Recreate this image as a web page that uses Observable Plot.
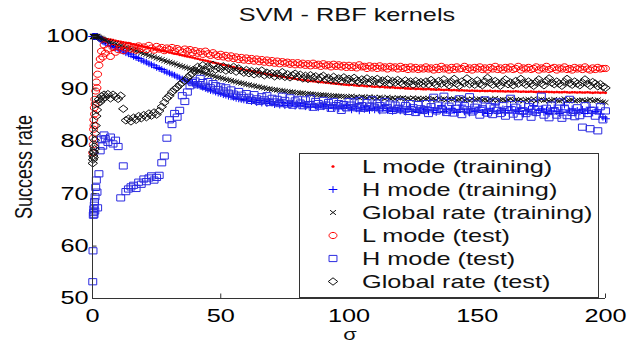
<!DOCTYPE html>
<html>
<head>
<meta charset="utf-8">
<script src="https://cdn.jsdelivr.net/npm/d3@7"></script>
<script src="https://cdn.jsdelivr.net/npm/@observablehq/plot@0.6"></script>
<style>
html, body { margin: 0; padding: 0; background: #fff; }
#chart svg { display: block; }
</style>
</head>
<body>
<div id="chart"></div>
<script>
// ---------- data ----------
const titleText = "SVM - RBF kernels";
const xLabel = "σ";
const yLabel = "Success rate";
const xTicks = [0, 50, 100, 150, 200];
const yTicks = [50, 60, 70, 80, 90, 100];
const seriesLabels = ["L mode (training)", "H mode (training)", "Global rate (training)", "L mode (test)", "H mode (test)", "Global rate (test)"];

const sigma = [0.1,0.2,0.3,0.4,0.5,0.6,0.7,0.8,0.9,1,1.25,1.5,1.75,2,2.5,3,3.5,4,4.5,
5,6,7,8,9,
10,11,12,13,14,15,16,17,18,19,
20,21,22,23,24,25,26,27,28,29,
30,31,32,33,34,35,36,37,38,39,
40,41,42,43,44,45,46,47,48,49,
50,51,52,53,54,55,56,57,58,59,
60,61,62,63,64,65,66,67,68,69,
70,71,72,73,74,75,76,77,78,79,
80,81,82,83,84,85,86,87,88,89,
90,91,92,93,94,95,96,97,98,99,
100,101,102,103,104,105,106,107,108,109,
110,111,112,113,114,115,116,117,118,119,
120,121,122,123,124,125,126,127,128,129,
130,131,132,133,134,135,136,137,138,139,
140,141,142,143,144,145,146,147,148,149,
150,151,152,153,154,155,156,157,158,159,
160,161,162,163,164,165,166,167,168,169,
170,171,172,173,174,175,176,177,178,179,
180,181,182,183,184,185,186,187,188,189,
190,191,192,193,194,195,196,197,198,199,
200];

const lTrain = [100,100,100,100,100,100,100,100,100,100,100,100,100,100,99.9,99.85,99.8,99.7,99.65,
99.55,99.45,99.4,99.3,99.2,
99.1,99.0,98.9,98.8,98.7,98.6,98.5,98.4,98.3,98.2,
98.05,97.95,97.85,97.75,97.6,97.5,97.4,97.3,97.2,97.1,
96.95,96.85,96.75,96.65,96.5,96.4,96.3,96.2,96.1,96.0,
95.85,95.75,95.6,95.5,95.4,95.3,95.15,95.05,94.95,94.85,
94.7,94.6,94.5,94.35,94.25,94.15,94.0,93.9,93.8,93.7,
93.6,93.5,93.4,93.3,93.2,93.1,93.0,92.9,92.85,92.75,
92.65,92.55,92.5,92.4,92.3,92.25,92.15,92.1,92.0,91.95,
91.85,91.8,91.7,91.65,91.6,91.5,91.45,91.4,91.35,91.3,
91.25,91.2,91.15,91.1,91.05,91.0,90.95,90.9,90.85,90.8,
90.75,90.8,90.7,90.65,90.6,90.65,90.55,90.5,90.55,90.45,
90.4,90.45,90.35,90.4,90.3,90.3,90.25,90.3,90.2,90.2,
90.15,90.2,90.1,90.1,90.05,90.1,90.0,90.05,90.0,89.95,
89.95,90.0,89.9,89.9,89.85,89.9,89.85,89.8,89.85,89.8,
89.75,89.8,89.75,89.7,89.75,89.7,89.7,89.65,89.7,89.65,
89.65,89.6,89.65,89.6,89.6,89.65,89.55,89.6,89.55,89.55,
89.55,89.5,89.55,89.5,89.5,89.55,89.5,89.45,89.5,89.45,
89.45,89.5,89.45,89.4,89.45,89.4,89.4,89.45,89.4,89.4,
89.35,89.4,89.35,89.35,89.4,89.35,89.3,89.35,89.35,89.3,
89.35,89.3,89.3,89.35,89.3,89.25,89.3,89.3,89.25,89.3,
89.25];

const hTrain = [100,100,100,100,100,100,100,100,100,100,100,100,100,100,99.75,99.55,99.3,99.1,98.95,
98.8,98.6,98.3,98.1,97.9,
97.6,97.4,97.2,96.9,96.7,96.5,96.2,96.0,95.8,95.5,
95.3,95.1,94.8,94.6,94.4,94.1,93.9,93.7,93.4,93.2,
93.0,92.8,92.6,92.3,92.1,91.9,91.7,91.5,91.3,91.1,
90.9,90.7,90.5,90.3,90.1,89.9,89.7,89.6,89.4,89.2,
89.1,88.9,88.8,88.6,88.5,88.4,88.2,88.1,88.0,87.9,
87.8,88.1,87.6,87.9,87.4,87.8,87.3,87.7,87.2,87.6,
87.3,87.0,87.5,86.9,87.4,86.8,87.2,86.9,87.3,86.7,
87.1,86.8,87.2,86.6,87.0,86.5,87.1,86.7,86.4,86.9,
86.6,87.0,86.3,86.8,86.4,86.9,86.2,86.7,86.3,86.8,
86.4,86.0,86.7,86.2,85.8,86.5,86.1,86.6,85.9,86.3,
86.0,86.5,85.8,86.3,86.8,85.9,86.2,85.7,86.4,86.0,
85.8,86.3,85.6,86.1,86.6,85.7,86.0,85.5,86.2,85.8,
86.1,85.6,86.4,85.9,85.5,86.2,86.8,85.7,86.0,85.4,
86.3,85.8,85.5,86.1,86.9,85.6,86.0,85.4,86.2,85.7,
85.9,86.5,85.5,86.0,85.3,86.3,85.8,87.1,85.6,85.9,
86.2,85.5,85.9,86.6,85.4,86.0,85.7,86.3,85.2,85.8,
86.1,85.6,86.8,85.4,85.9,86.2,85.5,86.0,85.3,85.8,
86.4,85.7,85.3,86.0,86.9,85.5,85.8,86.2,85.4,85.9,
85.6,86.1,85.3,85.8,86.5,85.4,85.7,86.0,85.2,84.6,
84.3];

const gTrain = [100,100,100,100,100,100,100,100,100,100,100,100,100,100,99.85,99.7,99.6,99.45,99.3,
99.2,99.05,98.9,98.7,98.6,
98.4,98.25,98.1,97.9,97.75,97.6,97.4,97.25,97.1,96.9,
96.75,96.6,96.4,96.25,96.1,95.9,95.75,95.6,95.4,95.25,
95.1,94.95,94.8,94.6,94.45,94.3,94.15,94.0,93.85,93.7,
93.55,93.4,93.25,93.1,92.95,92.8,92.65,92.5,92.35,92.2,
92.1,91.95,91.85,91.7,91.6,91.45,91.35,91.2,91.1,91.0,
90.85,90.8,90.65,90.6,90.45,90.4,90.25,90.2,90.05,90.0,
89.9,89.85,89.75,89.7,89.65,89.55,89.5,89.45,89.4,89.3,
89.3,89.2,89.2,89.1,89.1,89.0,89.0,88.95,88.9,88.85,
88.85,88.8,88.75,88.7,88.7,88.65,88.6,88.6,88.55,88.5,
88.5,88.6,88.4,88.5,88.3,88.5,88.4,88.3,88.5,88.3,
88.4,88.2,88.4,88.3,88.1,88.4,88.2,88.3,88.1,88.3,
88.2,88.3,88.1,88.2,88.0,88.3,88.1,88.2,88.0,88.2,
88.1,88.2,88.0,88.1,87.9,88.2,88.0,88.1,87.9,88.1,
88.0,88.1,87.9,88.0,88.2,87.9,88.0,87.8,88.1,87.9,
88.0,88.1,87.9,88.0,87.8,88.0,87.9,88.2,87.8,87.9,
88.0,87.8,87.9,88.1,87.8,87.9,87.8,88.0,87.7,87.9,
88.0,87.8,88.1,87.7,87.9,88.0,87.8,87.9,87.7,87.8,
88.0,87.8,87.7,87.9,88.1,87.7,87.8,87.9,87.7,87.8,
87.8,87.9,87.7,87.8,88.0,87.7,87.8,87.9,87.6,87.5,
87.4];

const lTest = [77.8,80.6,79.4,82.3,84.1,83.0,86.4,85.2,88.0,87.1,89.6,91.3,90.2,92.8,94.5,95.7,97.2,96.1,98.4,
96.8,97.6,96.2,97.9,97.0,
97.5,98.1,97.3,97.8,98.3,97.6,98.0,97.4,98.2,97.7,
98.0,97.5,98.3,97.8,97.4,98.1,97.6,97.9,97.3,97.8,
97.5,97.9,97.2,97.7,97.4,97.0,97.6,97.2,97.5,96.9,
97.3,96.8,97.1,96.6,97.2,96.7,96.4,96.9,96.5,96.2,
96.6,96.1,96.4,95.9,96.3,95.8,96.1,95.6,96.0,95.5,
95.9,95.4,95.8,95.3,95.7,95.2,95.6,95.1,95.5,95.0,
95.4,94.9,95.3,94.8,95.2,94.9,95.1,94.7,95.0,94.6,
95.0,94.6,94.9,94.5,94.8,94.4,94.9,94.5,94.7,94.3,
94.8,94.4,94.6,94.2,94.7,94.3,94.6,94.2,94.5,94.1,
94.5,94.1,94.4,94.0,94.6,94.2,94.3,93.9,94.4,94.0,
94.3,93.9,94.4,94.0,94.2,93.8,94.3,94.0,94.2,93.8,
94.3,93.9,94.1,93.7,94.2,93.8,94.1,93.7,94.0,93.8,
94.2,93.8,94.0,93.6,94.1,93.7,94.3,93.8,94.0,93.6,
94.1,93.7,94.2,93.8,93.9,94.3,93.7,94.0,93.6,94.1,
93.8,94.2,93.7,94.0,93.6,94.1,93.8,94.3,93.7,94.0,
93.6,94.1,93.8,94.2,93.7,93.9,94.3,93.6,94.0,93.8,
94.1,93.7,93.9,94.2,93.6,94.0,93.8,94.3,93.7,93.9,
94.1,93.6,94.0,93.8,94.2,93.7,93.9,93.6,94.1,93.8,
94.0,93.7,94.2,93.8,93.6,94.0,93.7,94.1,93.8,93.9,
93.9];

const hTest = [53.2,59.1,65.9,66.4,67.1,66.0,67.8,68.5,66.7,69.4,71.2,72.6,70.3,67.3,73.8,78.2,80.4,79.1,81.2,
80.5,79.8,80.8,79.5,80.2,
79.0,69.2,75.3,70.4,70.9,71.3,71.6,71.0,72.2,71.8,
72.8,72.3,73.0,73.4,72.6,73.1,73.5,75.9,77.2,80.6,
84.1,83.2,85.3,84.6,85.9,88.7,87.6,89.4,90.6,91.2,
91.5,90.8,92.0,91.2,90.5,91.4,90.2,91.0,90.6,89.9,
90.4,89.6,90.2,89.2,89.8,89.0,88.6,89.5,88.8,88.3,
89.1,88.4,87.8,88.9,88.1,87.6,88.5,87.9,88.7,87.4,
88.2,87.5,88.0,87.2,88.6,87.8,87.1,88.3,86.9,87.7,
88.0,87.3,86.8,87.9,87.0,88.2,86.5,87.6,87.2,86.7,
87.8,86.9,87.4,86.3,87.6,86.8,87.2,85.9,87.0,86.4,
87.6,86.9,87.5,86.4,87.8,86.8,86.3,87.4,86.7,87.9,
86.5,87.3,86.8,86.0,87.6,86.4,87.1,85.9,86.9,86.2,
87.5,86.0,86.8,85.7,87.2,86.4,85.5,87.0,86.2,85.9,
87.2,85.3,86.6,88.4,85.8,86.9,86.1,88.6,85.5,86.7,
87.4,85.4,86.3,88.1,85.1,86.8,86.0,88.5,85.6,86.5,
87.1,85.0,86.2,87.9,85.4,86.6,85.1,87.5,85.9,85.3,
86.8,84.8,86.0,88.2,85.2,86.5,84.7,87.0,85.8,85.3,
86.6,84.6,87.3,85.5,86.1,88.6,85.0,86.3,84.5,86.9,
85.8,85.0,87.5,84.4,86.2,84.9,88.0,85.5,84.7,86.4,
84.9,82.7,86.8,85.3,82.4,85.9,84.8,82.0,86.6,84.1,
85.8];

const gTest = [75.8,76.5,77.2,78.0,76.9,77.8,79.0,78.5,80.2,81.5,83.0,84.8,86.0,87.2,88.0,87.5,88.6,88.1,88.9,
88.4,89.0,88.2,88.9,88.5,
88.1,88.7,86.2,84.0,84.3,83.8,84.5,84.1,84.8,84.4,
85.0,84.6,85.3,84.9,85.5,85.1,85.8,86.6,87.4,88.2,
88.7,89.4,89.9,90.3,90.8,91.2,91.6,92.1,92.6,93.0,
93.5,94.2,93.8,94.5,93.6,94.3,93.9,94.6,93.7,94.1,
93.8,94.3,93.5,94.0,93.6,94.2,93.3,93.9,93.5,93.1,
93.6,93.0,93.4,92.8,93.3,92.9,93.5,92.6,93.1,92.7,
93.0,92.4,92.9,92.5,93.2,92.3,92.8,92.2,92.6,92.9,
92.3,92.7,92.0,92.5,91.9,92.6,92.1,92.4,91.8,92.2,
92.5,91.8,92.1,91.7,92.3,91.6,92.0,91.5,92.2,91.7,
91.9,91.4,92.1,91.6,91.3,91.8,91.5,92.0,91.2,91.7,
91.4,91.9,91.1,91.6,91.3,91.8,91.0,91.5,91.2,91.7,
91.3,90.9,91.6,91.1,91.4,90.8,91.5,91.0,91.3,90.9,
91.4,90.9,91.7,91.2,90.8,91.5,91.0,91.8,91.1,90.7,
91.3,91.9,91.0,90.6,91.4,91.1,92.0,90.9,91.3,90.8,
91.6,91.0,90.7,91.4,92.1,91.2,90.8,91.5,91.1,90.6,
91.3,91.8,90.9,91.2,90.7,91.5,91.0,91.9,91.2,90.8,
91.4,91.0,90.6,91.3,91.8,91.1,90.7,91.5,92.0,91.2,
90.9,91.4,91.0,90.6,91.3,91.9,91.1,90.8,91.4,91.0,
90.7,91.2,91.8,91.0,90.6,91.3,91.0,90.5,90.9,90.4,
90.2];

// ---------- check ----------
[lTrain, hTrain, gTrain, lTest, hTest, gTest].forEach((a, i) => {
  if (a.length !== sigma.length) throw new Error("length mismatch in series " + i + ": " + a.length + " vs " + sigma.length);
});

// ---------- marker shapes (horizontally stretched, like the reference) ----------
const SX = 1.28;
const rOf = s => Math.sqrt(s / Math.PI);
function ellipse(c, rx, ry) {
  const k = 0.5523;
  c.moveTo(rx, 0);
  c.bezierCurveTo(rx, k * ry, k * rx, ry, 0, ry);
  c.bezierCurveTo(-k * rx, ry, -rx, k * ry, -rx, 0);
  c.bezierCurveTo(-rx, -k * ry, -k * rx, -ry, 0, -ry);
  c.bezierCurveTo(k * rx, -ry, rx, -k * ry, rx, 0);
  c.closePath();
}
const symEllipse = { draw(c, s) { const r = rOf(s); ellipse(c, r * SX, r); } };
const symSquare = { draw(c, s) { const r = rOf(s); c.moveTo(-r * SX, -r); c.lineTo(r * SX, -r); c.lineTo(r * SX, r); c.lineTo(-r * SX, r); c.closePath(); } };
const symDiamond = { draw(c, s) { const r = rOf(s); c.moveTo(0, -r); c.lineTo(r * SX, 0); c.lineTo(0, r); c.lineTo(-r * SX, 0); c.closePath(); } };
const symPlus = { draw(c, s) { const r = rOf(s); c.moveTo(-r * SX, 0); c.lineTo(r * SX, 0); c.moveTo(0, -r); c.lineTo(0, r); } };
const symTimes = { draw(c, s) { const r = rOf(s) * 0.72; c.moveTo(-r * SX, -r); c.lineTo(r * SX, r); c.moveTo(-r * SX, r); c.lineTo(r * SX, -r); } };

const styles = [
  { values: lTrain, symbol: symEllipse, r: 1.3, fill: "#ff0000", stroke: "none" },
  { values: hTrain, symbol: symPlus, r: 3.4, fill: "none", stroke: "#0000ff" },
  { values: gTrain, symbol: symTimes, r: 3.2, fill: "none", stroke: "#111111" },
  { values: lTest, symbol: symEllipse, r: 3.1, fill: "none", stroke: "#ff0000" },
  { values: hTest, symbol: symSquare, r: 3.1, fill: "none", stroke: "#2a2ae0" },
  { values: gTest, symbol: symDiamond, r: 3.7, fill: "none", stroke: "#111111" }
];

const dotMarks = styles.map(st => {
  const rows = sigma.map((s, i) => ({ sigma: s, v: st.values[i] }));
  return Plot.dot(rows, {
    x: "sigma", y: "v", symbol: st.symbol, r: st.r,
    fill: st.fill, stroke: st.stroke, strokeWidth: 1
  });
});

const plot = Plot.plot({
  width: 643,
  height: 344,
  marginLeft: 92,
  marginRight: 38,
  marginTop: 36,
  marginBottom: 46,
  x: { domain: [0, 200] },
  y: { domain: [50, 100] },
  style: { fontFamily: "'Liberation Sans', Arial, sans-serif", fontSize: "18.6px", background: "#fff", color: "#000" },
  marks: [
    ...dotMarks,
    Plot.ruleX([0], { stroke: "#333" }),
    Plot.ruleY([50], { stroke: "#333" }),
    Plot.axisY(yTicks, { anchor: "left", tickSize: -4.5, tickPadding: 8.5, label: null, stroke: "#333" }),
    Plot.axisX(xTicks, { anchor: "bottom", tickSize: -4.5, tickPadding: 14.5, label: null, stroke: "#333" })
  ]
});

document.getElementById("chart").append(plot);

const svg = d3.select(plot);

// title and axis labels
svg.append("text").attr("x", 347).attr("y", 21).attr("text-anchor", "middle").attr("fill", "#111").text(titleText);
svg.append("text").attr("x", 350).attr("y", 340).attr("text-anchor", "middle").attr("fill", "#111")
  .style("font-size", "16px").text(xLabel);
svg.append("text").attr("class", "nostretch")
  .attr("transform", "translate(23,167) scale(1.36,1) rotate(-90)")
  .attr("text-anchor", "middle").attr("dy", "0.36em").attr("fill", "#111")
  .style("font-size", "18px").text(yLabel);

// legend
const lg = svg.append("g");
lg.append("rect").attr("x", 299.5).attr("y", 153.5).attr("width", 299).attr("height", 144)
  .attr("fill", "#fff").attr("stroke", "#333").attr("stroke-width", 1);
seriesLabels.forEach((lab, i) => {
  const cy = 166.5 + i * 23;
  const st = styles[i];
  const p = d3.path();
  st.symbol.draw(p, Math.PI * st.r * st.r);
  lg.append("path").attr("transform", `translate(333,${cy})`).attr("d", p.toString())
    .attr("fill", st.fill).attr("stroke", st.stroke).attr("stroke-width", 1);
  lg.append("text").attr("x", 362).attr("y", cy + 6.5).attr("text-anchor", "start")
    .attr("fill", "#111").text(lab);
});

// horizontal stretch of the lettering, as in the reference
const STRETCH = 1.36;
svg.selectAll("text").each(function () {
  if (this.classList.contains("nostretch")) return;
  const len = this.getComputedTextLength();
  if (len > 0) {
    this.setAttribute("textLength", (len * STRETCH).toFixed(2));
    this.setAttribute("lengthAdjust", "spacingAndGlyphs");
  }
});
</script>
</body>
</html>
